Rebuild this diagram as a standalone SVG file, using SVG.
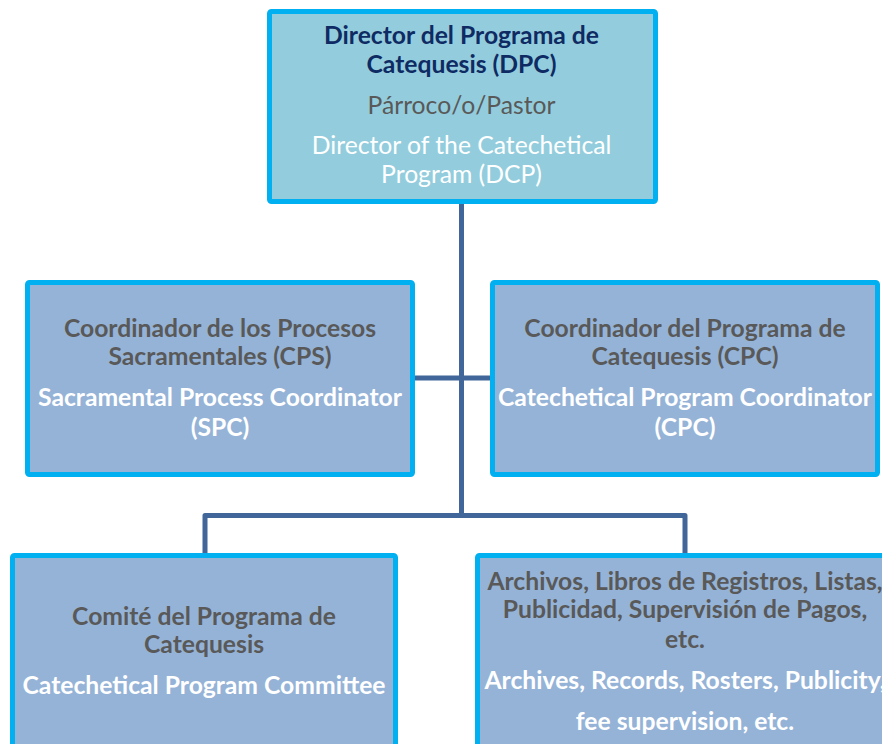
<svg xmlns="http://www.w3.org/2000/svg" width="882" height="744" viewBox="0 0 882 744">
<style>
.box{stroke:#00B0F0;stroke-width:5;}
.top{fill:#93CDDD;}
.mid{fill:#95B3D7;}
.conn{fill:none;stroke:#41669A;stroke-width:5;stroke-linejoin:round;}
text{font-family:Lato,"Open Sans","Liberation Sans",sans-serif;font-size:24.7px;text-anchor:middle;}
.b{font-weight:bold;}
.navy{fill:#0F2B63;}
.gray{fill:#595959;}
.white{fill:#FFFFFF;}
</style>
<rect width="882" height="744" fill="#FFFFFF"/>
<g id="connectors">
<path class="conn" d="M461.5,204 V515.5"/>
<path class="conn" d="M415,378 H490"/>
<path class="conn" d="M205,553 V515.5 H685 V553"/>
</g>
<g id="dpc">
<rect class="box top" x="269.5" y="11.5" width="386" height="190" rx="2"/>
<text class="b navy" x="461.5" y="44">Director del Programa de</text>
<text class="b navy" x="461.5" y="73">Catequesis (DPC)</text>
<text class="gray" x="461.5" y="114">Párroco/o/Pastor</text>
<text class="white" x="461.5" y="154">Director of the Catechetical</text>
<text class="white" x="461.5" y="183">Program (DCP)</text>
</g>
<g id="cps">
<rect class="box mid" x="27.5" y="282.5" width="385" height="192" rx="2"/>
<text class="b gray" x="220" y="337">Coordinador de los Procesos</text>
<text class="b gray" x="220" y="365">Sacramentales (CPS)</text>
<text class="b white" x="220" y="406">Sacramental Process Coordinator</text>
<text class="b white" x="220" y="436">(SPC)</text>
</g>
<g id="cpc">
<rect class="box mid" x="492.5" y="282.5" width="385" height="192" rx="2"/>
<text class="b gray" x="685" y="337">Coordinador del Programa de</text>
<text class="b gray" x="685" y="365">Catequesis (CPC)</text>
<text class="b white" x="685" y="406">Catechetical Program Coordinator</text>
<text class="b white" x="685" y="436">(CPC)</text>
</g>
<g id="committee">
<rect class="box mid" x="12.5" y="555.5" width="383" height="210" rx="2"/>
<text class="b gray" x="204" y="625">Comité del Programa de</text>
<text class="b gray" x="204" y="653">Catequesis</text>
<text class="b white" x="204" y="694">Catechetical Program Committee</text>
</g>
<g id="archives">
<rect class="box mid" x="477.5" y="555.5" width="420" height="210" rx="2"/>
<text class="b gray" x="685" y="590">Archivos, Libros de Registros, Listas,</text>
<text class="b gray" x="685" y="618">Publicidad, Supervisión de Pagos,</text>
<text class="b gray" x="685" y="648">etc.</text>
<text class="b white" x="685" y="689">Archives, Records, Rosters, Publicity,</text>
<text class="b white" x="685" y="730">fee supervision, etc.</text>
</g>
</svg>
